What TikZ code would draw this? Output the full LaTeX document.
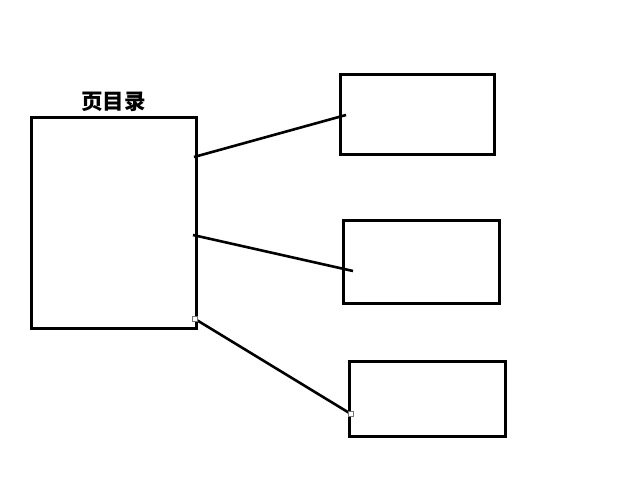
\documentclass[tikz,border=0pt]{standalone}
\usepackage{fontspec}
\newfontfamily\cjk{Noto Sans CJK SC}
\usetikzlibrary{positioning, calc}

\begin{document}
\begin{tikzpicture}[x=1pt, y=-1pt,
    page/.style={draw, line width=3pt, inner sep=0pt},
    link/.style={line width=2.6pt},
    grip/.style={draw=black!55, fill=white, line width=0.8pt,
                 minimum size=5pt, inner sep=0pt}
  ]
    \useasboundingbox (0,0) rectangle (629,487);

    % directory page and the pages it points to
    \node[page, minimum width=165pt, minimum height=211pt] (dir) at (113.5,222.5) {};
    \node[font=\cjk\bfseries\fontsize{21.5}{21.5}\selectfont, above=0pt of dir] (title) {页目录};
    \node[page, minimum width=154pt, minimum height=79pt] (pg1) at (417,114.5) {};
    \node[page, minimum width=156pt, minimum height=83pt] (pg2) at (421,261.5) {};
    \node[page, minimum width=156pt, minimum height=75pt] (pg3) at (427,398.5) {};

    \coordinate (a1) at (194,157);
    \coordinate (b1) at (346,115);
    \coordinate (a2) at (193,235);
    \coordinate (b2) at (353,271);
    \coordinate (a3) at (195,319);
    \coordinate (b3) at (351,414);

    \draw[link] (a1) -- (b1);
    \draw[link] (a2) -- (b2);
    \draw[link] (a3) -- (b3);
    \node[grip] (g1) at (a3) {};
    \node[grip] (g2) at (b3) {};
  \end{tikzpicture}
\end{document}
